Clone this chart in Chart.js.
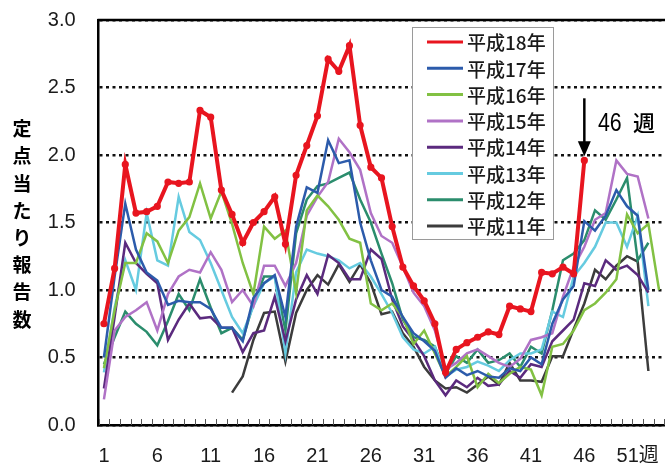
<!DOCTYPE html>
<html><head><meta charset="utf-8">
<script src="https://cdn.jsdelivr.net/npm/chart.js@4/dist/chart.umd.min.js"></script>
<style>html,body{margin:0;padding:0;background:#fff;overflow:hidden;width:665px;height:465px}canvas{display:block}</style>
</head><body>
<canvas id="c" width="670" height="465"></canvas>
<script>
const weeks = Array.from({length:53},(_,i)=>String(i+1));
const xTickLabels = {1:'1',6:'6',11:'11',16:'16',21:'21',26:'26',31:'31',36:'36',41:'41',46:'46',51:'51週'};
const yTicks = [0,0.5,1.0,1.5,2.0,2.5,3.0];
const seriesNames = ['平成18年','平成17年','平成16年','平成15年','平成14年','平成13年','平成12年','平成11年'];
const h18 = [0.75,1.16,1.93,1.57,1.58,1.62,1.80,1.79,1.80,2.33, 2.28,1.74,1.56,1.35,1.50,1.58,1.69,1.34,1.85,2.07, 2.29,2.71,2.62,2.81,2.22,1.91,1.83,1.47,1.17,1.03, 0.92,0.75,0.39,0.56,0.61,0.65,0.69,0.67,0.88,0.86, 0.84,1.13,1.12,1.17,1.12,1.96];
const h17 = [0.50,1.10,1.64,1.30,1.13,1.07,0.89,0.92,0.91,0.91, 0.86,0.72,0.72,0.62,0.94,1.05,1.11,0.80,1.47,1.76, 1.72,2.11,1.94,1.96,1.50,1.22,1.00,0.95,0.80,0.68, 0.62,0.55,0.35,0.42,0.37,0.40,0.36,0.35,0.42,0.40, 0.50,0.45,0.75,0.93,1.03,1.51,1.44,1.55,1.74,1.62, 1.55,1.00];
const h16 = [0.42,0.85,1.20,1.20,1.42,1.36,1.20,1.44,1.54,1.79, 1.53,1.73,1.49,1.20,0.97,1.47,1.38,1.44,0.98,1.59, 1.70,1.62,1.52,1.38,1.35,0.90,0.85,0.90,0.80,0.60, 0.70,0.53,0.36,0.43,0.51,0.28,0.38,0.31,0.38,0.43, 0.41,0.22,0.58,0.60,0.70,0.85,0.90,0.98,1.08,1.56, 1.42,1.49,1.00];
const h15 = [0.19,0.70,0.80,0.85,0.91,0.70,0.97,1.10,1.15,1.13, 1.28,1.15,0.91,1.00,0.88,1.18,1.18,1.03,1.20,1.55, 1.69,1.80,2.12,2.02,1.89,1.57,1.40,1.35,1.17,0.98, 0.88,0.70,0.41,0.46,0.53,0.56,0.51,0.46,0.43,0.49, 0.63,0.65,0.68,0.95,1.17,1.32,1.52,1.57,1.96,1.86, 1.84,1.53];
const h14 = [0.27,0.80,1.35,1.20,1.12,1.05,0.63,0.78,0.90,0.79, 0.80,0.72,0.72,0.54,0.68,0.70,0.95,0.62,0.93,1.11, 0.97,1.26,1.20,1.08,1.08,1.30,1.23,0.93,0.73,0.63, 0.51,0.33,0.22,0.33,0.28,0.35,0.29,0.30,0.40,0.35, 0.45,0.43,0.62,0.70,0.78,1.05,1.03,1.22,1.15,1.18, 1.11,0.98];
const h13 = [0.39,0.87,1.22,1.00,1.57,1.22,1.18,1.69,1.43,1.37, 1.20,1.00,0.80,0.68,0.88,1.05,1.10,0.53,1.13,1.30, 1.27,1.25,1.22,1.16,1.20,1.10,0.97,0.83,0.65,0.56, 0.53,0.58,0.36,0.41,0.43,0.47,0.44,0.40,0.48,0.53, 0.53,0.56,0.84,0.80,1.10,1.20,1.32,1.50,1.50,1.32, 1.55,0.88];
const h12 = [0.45,0.65,0.84,0.75,0.69,0.59,0.77,0.97,0.85,1.08, 0.87,0.68,0.72,0.63,0.90,1.10,1.10,0.70,1.42,1.67, 1.77,1.79,1.83,1.87,1.67,1.50,1.27,1.05,0.78,0.65, 0.63,0.58,0.38,0.51,0.46,0.56,0.46,0.48,0.53,0.43, 0.58,0.53,0.85,1.22,1.27,1.37,1.59,1.52,1.67,1.83, 1.22,1.35];
const h11 = [null,null,null,null,null,null,null,null,null,null, null,null,0.24,0.36,0.63,0.83,0.84,0.47,0.83,1.00, 1.11,1.04,1.19,1.06,1.19,1.05,0.82,0.84,0.68,0.58, 0.43,0.33,0.27,0.28,0.24,0.30,0.36,0.30,0.46,0.33, 0.33,0.32,0.51,0.51,0.71,0.90,1.15,1.08,1.18,1.25, 1.21,0.40];
const annotationWeek = 46;
const annotationNum = '46';
const annotationUnit = '週';
const yTitle = '定点当たり報告数';

const colors = ['#e8151f','#2c5bab','#82c143','#b072c6','#5b2a7e','#66cbe0','#2b8d6d','#3c3c3c'];
const widths = [4,2.5,2.5,2.5,2.5,2.5,2.5,2.5];
const allData = [h18,h17,h16,h15,h14,h13,h12,h11];

const NUM_FONT = "'Liberation Sans','Noto Sans CJK JP',sans-serif";
const JP_FONT = "'Noto Sans CJK JP','Noto Sans CJK SC',sans-serif";

const decor = {
  id:'decor',
  beforeDatasetsDraw(chart){
    const {ctx, chartArea:a, scales:{y}} = chart;
    ctx.save();
    const yt = y.getPixelForValue(3);
    ctx.strokeStyle='#000'; ctx.lineWidth=2.5;
    ctx.beginPath(); ctx.moveTo(a.left-1, yt); ctx.lineTo(a.right+5, yt); ctx.stroke();
    ctx.restore();
  },
  afterDatasetsDraw(chart){
    const {ctx, chartArea:a, scales:{x,y}} = chart;
    ctx.save();
    // inner tick marks on bottom axis
    const cw = x.getPixelForValue(1) - x.getPixelForValue(0);
    ctx.strokeStyle = '#555'; ctx.lineWidth = 1;
    for(let i=0;i<=weeks.length;i++){
      const px = Math.round(x.getPixelForValue(0) - cw/2 + i*cw) + 0.5;
      ctx.beginPath(); ctx.moveTo(px, a.bottom); ctx.lineTo(px, a.bottom-6); ctx.stroke();
    }
    // legend
    const lx=412, ly=27, lw=141, lh=212;
    ctx.fillStyle='#fff'; ctx.fillRect(lx,ly,lw,lh);
    ctx.strokeStyle='#9a9a9a'; ctx.lineWidth=1; ctx.strokeRect(lx+0.5,ly+0.5,lw,lh);
    ctx.font = "500 19px " + JP_FONT; ctx.textBaseline='middle'; ctx.textAlign='left';
    chart.data.datasets.forEach((ds,i)=>{
      const yy = 42 + i*26.3;
      ctx.strokeStyle = ds.borderColor; ctx.lineWidth = 3;
      ctx.beginPath(); ctx.moveTo(427,yy); ctx.lineTo(463,yy); ctx.stroke();
      ctx.fillStyle='#1a1a1a'; ctx.fillText(ds.label, 467, yy+1);
    });
    // arrow annotation
    const ax = x.getPixelForValue(annotationWeek-1);
    const yTop = y.getPixelForValue(2.42), yTip = y.getPixelForValue(1.99);
    ctx.strokeStyle='#000'; ctx.lineWidth=2.5;
    ctx.beginPath(); ctx.moveTo(ax,yTop); ctx.lineTo(ax,yTip-8); ctx.stroke();
    ctx.fillStyle='#000';
    ctx.beginPath(); ctx.moveTo(ax-6.5,yTip-15); ctx.lineTo(ax+6.5,yTip-15); ctx.lineTo(ax,yTip); ctx.closePath(); ctx.fill();
    ctx.textBaseline='middle'; ctx.textAlign='left';
    ctx.save(); ctx.translate(598,124); ctx.scale(0.82,1);
    ctx.font = "26px 'Liberation Sans',sans-serif"; ctx.fillText(annotationNum, 0, 0);
    ctx.restore();
    ctx.font = "500 22px " + JP_FONT;
    ctx.fillText(annotationUnit, 633, 123);
    // y title stacked
    ctx.font = "bold 19px " + JP_FONT; ctx.textAlign='center';
    [...yTitle].forEach((ch,i)=>{ ctx.fillText(ch, 22, 129 + i*27.2); });
    ctx.restore();
  }
};

new Chart(document.getElementById('c'), {
  type:'line',
  data:{
    labels: weeks,
    datasets: allData.map((d,i)=>({
      label: seriesNames[i], data: d, borderColor: colors[i], backgroundColor: colors[i],
      borderWidth: widths[i], pointRadius: i===0?1.6:0, pointHoverRadius:0, tension:0, spanGaps:false, fill:false
    }))
  },
  options:{
    responsive:false, animation:false, devicePixelRatio:1,
    layout:{padding:{top:20,right:1.6,left:0,bottom:0}},
    plugins:{legend:{display:false}, tooltip:{enabled:false}},
    scales:{
      x:{
        type:'category', offset:true,
        grid:{display:true, drawOnChartArea:false, drawTicks:true, tickLength:17, tickColor:'rgba(0,0,0,0)'},
        border:{display:true, color:'#000', width:2.5},
        ticks:{autoSkip:false, maxRotation:0, padding:2, color:'#1a1a1a',
          font:{family:NUM_FONT, size:20},
          callback:(v,i)=> xTickLabels[i+1] || ''},
        afterFit:(s)=>{ s.height = 40; }
      },
      y:{
        min:0, max:3,
        afterBuildTicks:(s)=>{ s.ticks = yTicks.map(v=>({value:v})); },
        grid:{color:'#111', lineWidth:2.6, drawTicks:true, tickLength:20, tickColor:'rgba(0,0,0,0)'},
        border:{display:true, color:'#000', width:2.5, dash:[3,3.5]},
        ticks:{padding:3, color:'#1a1a1a', font:{family:NUM_FONT, size:20}, callback:(v)=>Number(v).toFixed(1)},
        afterFit:(s)=>{ s.width = 98.6; }
      }
    }
  },
  plugins:[decor]
});
</script>
</body></html>
